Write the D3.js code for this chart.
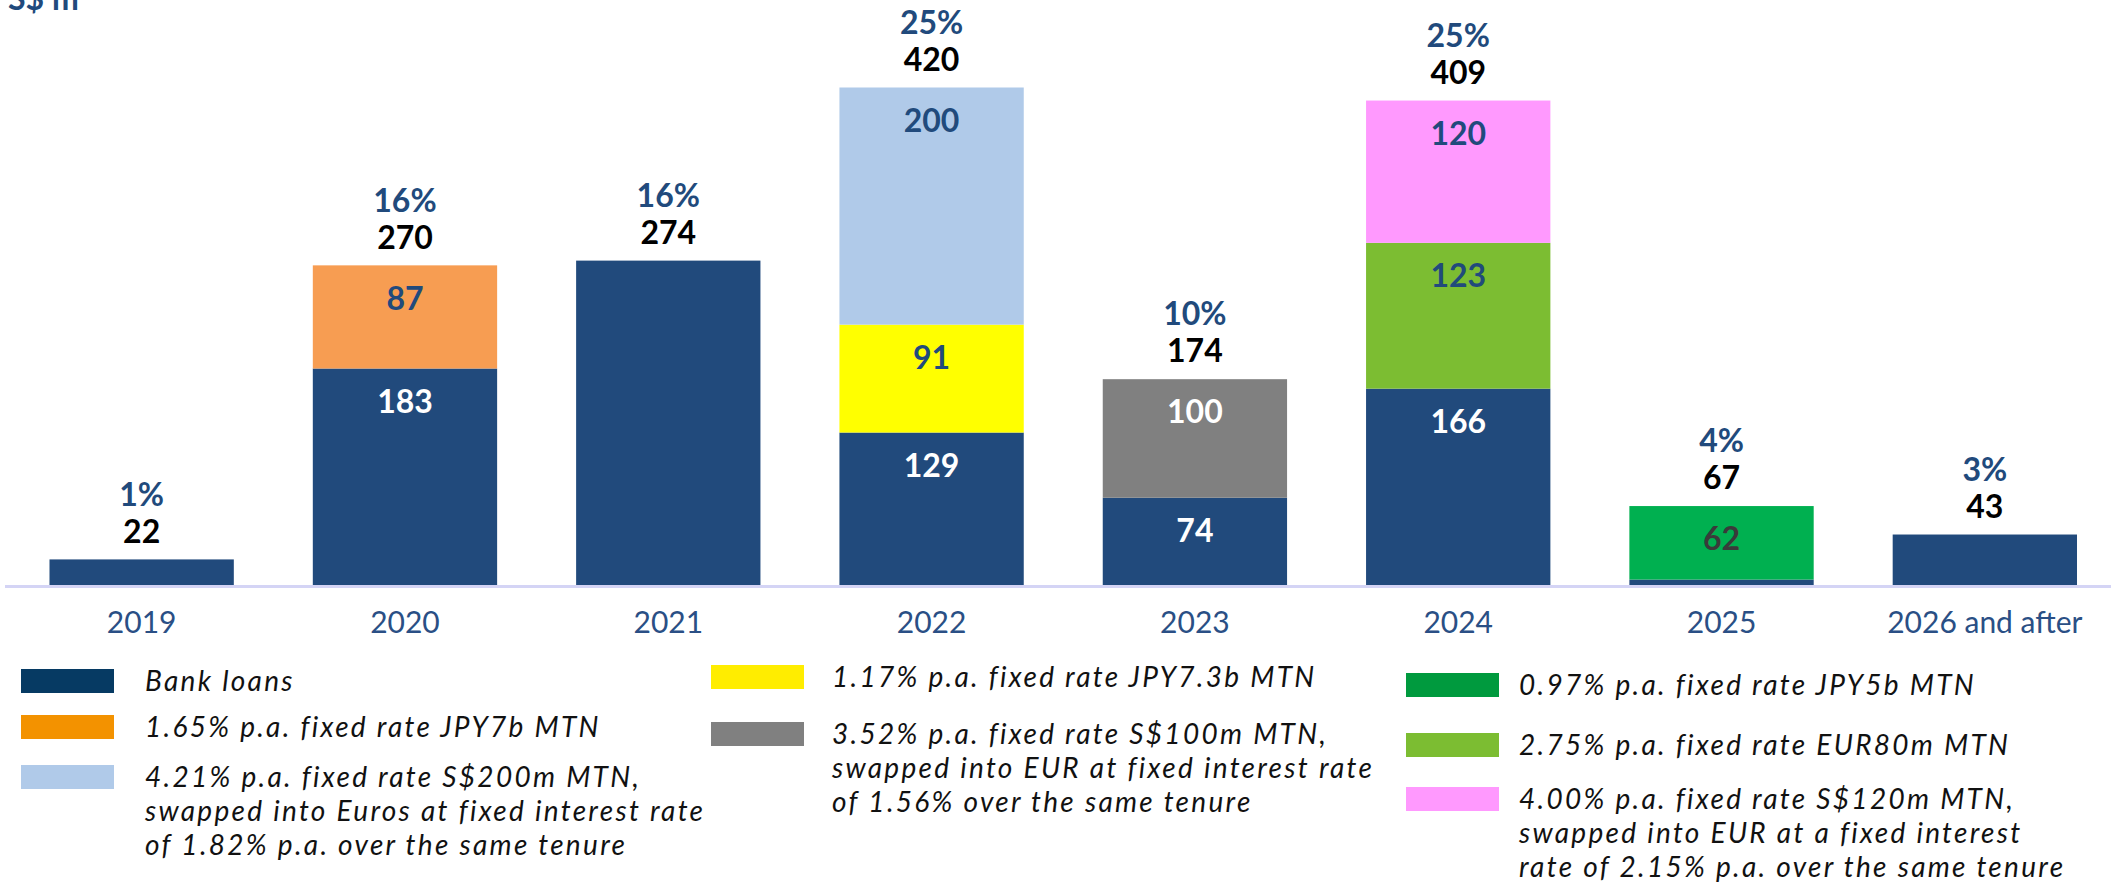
<!DOCTYPE html>
<html>
<head>
<meta charset="utf-8">
<script src="https://cdn.jsdelivr.net/npm/d3@7"></script>
<style>
  body { margin: 0; background: #fff; }
  svg text { font-family: Lato, "Open Sans", sans-serif; }
</style>
</head>
<body>
<svg width="2111" height="884"></svg>
<script>
// years on the x axis
var categories = ["2019", "2020", "2021", "2022", "2023", "2024", "2025", "2026 and after"];

// S$ m per year, one array per debt instrument
var bankLoans = [22, 183, 274, 129, 74, 166, 5, 43];
var jpy7b     = [0, 87, 0, 0, 0, 0, 0, 0];
var jpy73b    = [0, 0, 0, 91, 0, 0, 0, 0];
var sgd200m   = [0, 0, 0, 200, 0, 0, 0, 0];
var sgd100m   = [0, 0, 0, 0, 100, 0, 0, 0];
var eur80m    = [0, 0, 0, 0, 0, 123, 0, 0];
var sgd120m   = [0, 0, 0, 0, 0, 120, 0, 0];
var jpy5b     = [0, 0, 0, 0, 0, 0, 62, 0];

var totals   = [22, 270, 274, 420, 174, 409, 67, 43];
var percents = ["1%", "16%", "16%", "25%", "10%", "25%", "4%", "3%"];

var keys = ["bank", "jpy7b", "jpy73b", "sgd200m", "sgd100m", "eur80m", "sgd120m", "jpy5b"];
var values = [bankLoans, jpy7b, jpy73b, sgd200m, sgd100m, eur80m, sgd120m, jpy5b];

var barColors    = ["#214a7c", "#f79d52", "#ffff00", "#b0cae9", "#808080", "#7cbd32", "#ff99fe", "#00b050"];
var labelColors  = ["#ffffff", "#214a7c", "#214a7c", "#214a7c", "#ffffff", "#214a7c", "#214a7c", "#3a3a3a"];
var legendColors = ["#063a63", "#f39200", "#b0cae9", "#ffed00", "#808080", "#009a3e", "#7cbd32", "#ff99fe"];

var legendText = [
  ["Bank loans"],
  ["1.65% p.a. fixed rate JPY7b MTN"],
  ["4.21% p.a. fixed rate S$200m MTN,", "swapped into Euros at fixed interest rate", "of 1.82% p.a. over the same tenure"],
  ["1.17% p.a. fixed rate JPY7.3b MTN"],
  ["3.52% p.a. fixed rate S$100m MTN,", "swapped into EUR at fixed interest rate", "of 1.56% over the same tenure"],
  ["0.97% p.a. fixed rate JPY5b MTN"],
  ["2.75% p.a. fixed rate EUR80m MTN"],
  ["4.00% p.a. fixed rate S$120m MTN,", "swapped into EUR at a fixed interest", "rate of 2.15% p.a. over the same tenure"]
];

var svg = d3.select("svg"),
    width = +svg.attr("width"),
    height = +svg.attr("height");

var rows = categories.map(function(c, i) {
  var r = { year: c };
  keys.forEach(function(k, j) { r[k] = values[j][i]; });
  return r;
});

var stacked = d3.stack().keys(keys)(rows);

var x = d3.scaleBand()
    .domain(categories)
    .range([10, 2116.5])
    .paddingInner(0.3)
    .paddingOuter(0.15);

var y = d3.scaleLinear()
    .domain([0, 420])
    .range([585.5, 87.5]);

var color = d3.scaleOrdinal().domain(keys).range(barColors);
var labelColor = d3.scaleOrdinal().domain(keys).range(labelColors);

// unit label, partly cut off at the top (as in the source slide)
svg.append("text")
    .attr("x", 8)
    .attr("y", 10)
    .attr("fill", "#214a7c")
    .attr("font-size", 32)
    .attr("font-weight", 700)
    .text("S$ m");

var layers = svg.append("g").selectAll("g")
  .data(stacked)
  .join("g")
    .attr("fill", function(d) { return color(d.key); });

layers.selectAll("rect")
  .data(function(d) { return d; })
  .join("rect")
    .attr("x", function(d) { return x(d.data.year); })
    .attr("y", function(d) { return y(d[1]); })
    .attr("width", x.bandwidth())
    .attr("height", function(d) { return y(d[0]) - y(d[1]); });

// labels inside segments, only where a bar has several pieces
layers.each(function(layer) {
  d3.select(this).selectAll("text")
    .data(layer.filter(function(d) {
      var v = d[1] - d[0];
      var n = keys.filter(function(k) { return d.data[k] > 0; }).length;
      return v > 10 && n > 1;
    }))
    .join("text")
      .attr("x", function(d) { return x(d.data.year) + x.bandwidth() / 2; })
      .attr("y", function(d) { return y(d[1]) + 33; })
      .attr("dy", "0.35em")
      .attr("text-anchor", "middle")
      .attr("font-size", 32)
      .attr("font-weight", 700)
      .attr("fill", labelColor(layer.key))
      .text(function(d) { return d[1] - d[0]; });
});

// totals and share on top of each bar
var tops = svg.append("g").selectAll("g")
  .data(categories)
  .join("g")
    .attr("transform", function(d, i) {
      return "translate(" + (x(d) + x.bandwidth() / 2) + "," + y(totals[i]) + ")";
    })
    .attr("text-anchor", "middle")
    .attr("font-size", 32);

tops.append("text")
    .attr("y", -28)
    .attr("dy", "0.35em")
    .attr("font-weight", 700)
    .attr("fill", "#000")
    .text(function(d, i) { return totals[i]; });

tops.append("text")
    .attr("y", -65)
    .attr("dy", "0.35em")
    .attr("font-weight", 700)
    .attr("fill", "#214a7c")
    .text(function(d, i) { return percents[i]; });

// baseline
svg.append("line")
    .attr("x1", 5)
    .attr("x2", width)
    .attr("y1", y(0) + 1)
    .attr("y2", y(0) + 1)
    .attr("stroke", "#d4d4f5")
    .attr("stroke-width", 3);

var xAxis = svg.append("g")
    .attr("transform", "translate(0," + (y(0) + 37) + ")")
    .call(d3.axisBottom(x).tickSize(0).tickPadding(0));

xAxis.select(".domain").remove();
xAxis.selectAll("text")
    .attr("font-family", "Lato, sans-serif")
    .attr("font-size", 30)
    .attr("fill", "#2a4f85")
    .attr("dy", "0.35em");

// legend, three columns
var legendCols = [
  { sx: 21, tx: 145, items: [0, 1, 2], ys: [681, 727, 777] },
  { sx: 711, tx: 832, items: [3, 4], ys: [677, 734] },
  { sx: 1406, tx: 1519, items: [5, 6, 7], ys: [685, 745, 799] }
];

var legend = svg.append("g");
legendCols.forEach(function(col) {
  col.items.forEach(function(idx, n) {
    var yy = col.ys[n];
    legend.append("rect")
        .attr("x", col.sx)
        .attr("y", yy - 12)
        .attr("width", 93)
        .attr("height", 24)
        .attr("fill", legendColors[idx]);
    var t = legend.append("text")
        .attr("x", col.tx)
        .attr("y", yy)
        .attr("font-family", "'Open Sans', sans-serif")
        .attr("font-size", 28)
        .attr("font-weight", 400)
        .attr("font-style", "italic")
        .attr("letter-spacing", 2.3)
        .attr("fill", "#111");
    legendText[idx].forEach(function(line, li) {
      t.append("tspan")
          .attr("x", col.tx)
          .attr("dy", li === 0 ? "0.35em" : 34)
          .text(line);
    });
  });
});
</script>
</body>
</html>
